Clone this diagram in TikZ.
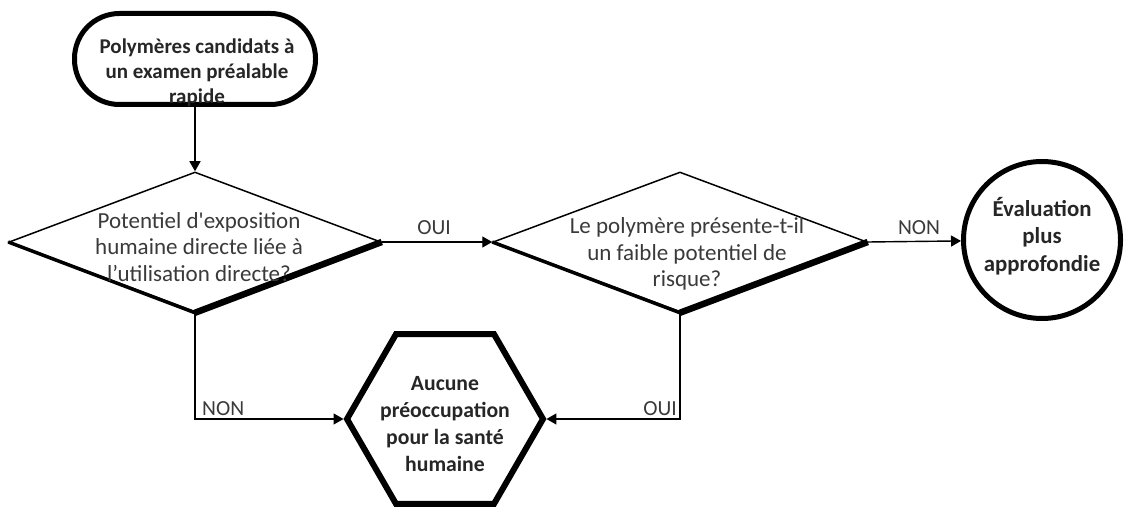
\documentclass[tikz,border=0pt]{standalone}
\usepackage{fontspec}
\setmainfont{Carlito}[Ligatures=TeXOff]
\usetikzlibrary{shapes.geometric,arrows.meta}
\definecolor{txtgray}{HTML}{3A3A3A}
\definecolor{boldgray}{HTML}{262626}
\begin{document}
\begin{tikzpicture}[x=1pt,y=-1pt,
  conn/.style={line width=1.4pt,-{Triangle[length=10pt,width=11pt]}},
  txt/.style={font=\fontsize{23}{26.5}\selectfont, text=txtgray, align=center, inner sep=0pt},
  lbl/.style={font=\fontsize{21.5}{24}\selectfont, text=txtgray, inner sep=0pt},
  btxt/.style={font=\bfseries\fontsize{21}{25}\selectfont, text=boldgray, align=center, inner sep=0pt},
  decision/.style={diamond, draw, line width=1.5pt, inner sep=0pt, minimum height=140pt},
  thickshape/.style={draw, inner sep=0pt}]
\fill[white] (0,0) rectangle (1124,510);
\useasboundingbox (0,0) rectangle (1124,510);

% shapes
\node[thickshape, line width=5pt, rounded corners=45pt, minimum width=241pt, minimum height=91pt] (start) at (195,59) {};
\node[decision, minimum width=372pt] (d1) at (195,242) {};
\node[decision, minimum width=374pt] (d2) at (680,242) {};
\node[thickshape, circle, line width=5pt, minimum size=157pt] (eval) at (1042,240) {};
\node[thickshape, regular polygon, regular polygon sides=6, line width=6pt, minimum size=196pt] (hex) at (445,419) {};

% shadow edges of decisions
\draw[line width=3.5pt] (d1.west) -- (d1.south);
\draw[line width=6.5pt] (d1.south) -- (d1.east);
\draw[line width=3.5pt] (d2.west) -- (d2.south);
\draw[line width=6.5pt] (d2.south) -- (d2.east);

% texts
\node[btxt] (tstart) at (197,73) {Polymères candidats à\\un examen préalable\\rapide};
\node[txt] (td1) at (199,247) {Potentiel d'exposition\\humaine directe liée à\\l’utilisation directe?};
\node[txt] (td2) at (687,254) {Le polymère présente-t-il\\un faible potentiel de\\risque?};
\node[btxt, font=\bfseries\fontsize{22.8}{27.5}\selectfont] (teval) at (1042,236) {Évaluation\\plus\\approfondie};
\node[btxt, font=\bfseries\fontsize{21.7}{26.7}\selectfont] (thex) at (445,424) {Aucune\\préoccupation\\pour la santé\\humaine};

% connectors
\draw[conn] (start) -- (d1);
\draw[conn] (d1) -- (d2);
\draw[conn] (d2.east) -- (eval);
\draw[conn] (d1.south) |- (hex.west);
\draw[conn] (d2.south) |- (hex.east);

% labels
\node[lbl] (oui1) at (434,228) {OUI};
\node[lbl] (non1) at (919,228) {NON};
\node[lbl, anchor=west] (non2) at (202,409) {NON};
\node[lbl, anchor=east] (oui2) at (677,409) {OUI};
\end{tikzpicture}
\end{document}
